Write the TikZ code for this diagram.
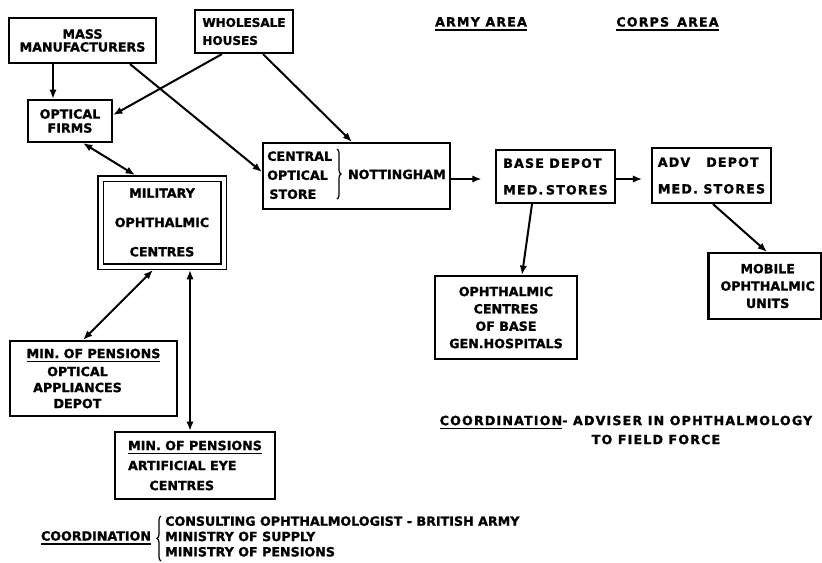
\documentclass[tikz,border=0pt]{standalone}
\usepackage{fontspec}
\setmainfont{DejaVu Sans}[BoldFont={DejaVu Sans Bold}, BoldFeatures={FakeBold=1.2}]
\newfontfamily\lsf{DejaVu Sans}[BoldFont={DejaVu Sans Bold}, BoldFeatures={FakeBold=1.2}, LetterSpace=9]
\usetikzlibrary{arrows.meta,decorations.pathreplacing}
\newcommand\myul[1]{\setbox0=\hbox{#1}\rlap{\rule[-3.2pt]{\wd0}{1.3pt}}\box0}
\newcommand\fs[2]{\fontsize{#1}{#2}\selectfont\bfseries}
\begin{document}
\begin{tikzpicture}[x=0.75pt,y=-0.75pt,
  box/.style={draw, line width=1.6pt, inner sep=0pt, align=center},
  sz/.style 2 args={minimum width=#1*0.75pt, minimum height=#2*0.75pt},
  lbl/.style={inner sep=0pt},
  bracepath/.style={decorate, decoration={brace, amplitude=3pt}, line width=0.9pt},
  arr/.style={line width=1.5pt, -{Latex[length=7pt,width=5.5pt]}},
  darr/.style={line width=1.5pt, {Latex[length=7pt,width=5.5pt]}-{Latex[length=7pt,width=5.5pt]}}]
\useasboundingbox (0,0) rectangle (822,562);

% boxes
\node[box, sz={147}{45}, font=\fs{9.5pt}{9.75pt}] (mass) at (82.5,40.5) {MASS\\MANUFACTURERS};
\node[box, sz={98}{43}, align=left, font=\fs{9pt}{13.5pt}] (whole) at (244,31.5) {WHOLESALE\\HOUSES};
\node[box, sz={84}{42}, font=\fs{9.5pt}{10.5pt}] (firms) at (70,121) {OPTICAL\\FIRMS};
\node[box, sz={123}{88}, line width=1.1pt, double, double distance=3pt, outer sep=2.6pt,
      font=\fs{9.5pt}{22pt}] (mil) at (162,222.5) {MILITARY\\OPHTHALMIC\\CENTRES};
\node[box, sz={187}{66}, font=\fs{9.5pt}{14.25pt}] (central) at (356.5,176)
  {\begin{tabular}{@{}l@{}}CENTRAL\\OPTICAL\\\,STORE\end{tabular}\hspace{12pt}NOTTINGHAM};
\coordinate (brtop) at (337,149);
\coordinate (brbot) at (337,199);
\draw[bracepath] (brtop) -- (brbot);
\node[box, sz={119}{53}, align=left, font=\fs{9.5pt}{20pt}\lsf] (base) at (555.5,176.5) {BASE\hspace{4pt}DEPOT\\MED.\hspace{2pt}STORES};
\node[box, sz={119}{55}, align=left, font=\fs{9.5pt}{20pt}\lsf] (adv) at (711.5,175.5) {ADV\hspace{12pt}DEPOT\\MED. STORES};
\node[box, sz={142}{83}, font=\fs{9.5pt}{13pt}] (ophc) at (506,317.5) {OPHTHALMIC\\CENTRES\\OF BASE\\GEN.HOSPITALS};
\node[box, sz={113}{66}, font=\fs{9.5pt}{13pt}] (mobile) at (765,286) {\hspace*{4pt}MOBILE\\\hspace*{4pt}OPHTHALMIC\\\hspace*{4pt}UNITS};
\node[box, sz={167}{75}, font=\fs{9.5pt}{12pt}] (minopt) at (93.5,378.5)
  {\myul{MIN.\ OF\ PENSIONS}\\[1.5pt]\hspace*{-24pt}OPTICAL\\\hspace*{-24pt}APPLIANCES\\\hspace*{-24pt}DEPOT};
\node[box, sz={160}{67}, align=left, font=\fs{9.5pt}{15pt}] (minart) at (195,465.5)
  {\myul{MIN. OF PENSIONS}\\ARTIFICIAL EYE\\\hspace*{16pt}CENTRES};

% labels
\node[lbl, font=\fs{9.5pt}{12pt}\lsf] (army) at (481,24) {\myul{ARMY AREA}};
\node[lbl, font=\fs{9.5pt}{12pt}\lsf] (corps) at (667.5,24) {\myul{CORPS\hspace{6pt}AREA}};
\node[lbl, align=center, font=\fs{9.5pt}{14.25pt}\lsf] (coordR) at (626,430)
  {\myul{COORDINATION}- ADVISER IN OPHTHALMOLOGY\\\hspace*{45pt}TO FIELD FORCE};
\node[lbl, font=\fs{9.5pt}{12pt}] (coordL) at (96,538) {\myul{COORDINATION}};
\node[lbl, anchor=west, font=\fs{9.5pt}{11.5pt}] (coordList) at (165,538)
  {\begin{tabular}{@{}l@{}}CONSULTING OPHTHALMOLOGIST - BRITISH ARMY\\MINISTRY OF SUPPLY\\MINISTRY OF PENSIONS\end{tabular}};
\coordinate (br2top) at (161,561);
\coordinate (br2bot) at (161,516);
\draw[bracepath] (br2top) -- (br2bot);

% connectors
\draw[arr] (mass.south -| 53,0) -- (firms.north -| 53,0);
\draw[arr] (mass.south -| 130,0) -- (central.west |- 0,172);
\draw[arr] (whole.south -| 222,0) -- (firms.east |- 0,115);
\draw[arr] (whole.south -| 263,0) -- (central.north -| 352,0);
\draw[darr] (firms.south -| 83,0) -- (mil.north -| 135,0);
\draw[darr] (mil.south -| 153,0) -- (minopt.north -| 83,0);
\draw[darr] (mil.south -| 190,0) -- (minart.north -| 190,0);
\draw[arr, shorten >=10pt] (central.east |- 0,179) -- (base.west |- 0,179);
\draw[arr, shorten >=6.5pt] (base.east |- 0,179) -- (adv.west |- 0,179);
\draw[arr] (base.south -| 532,0) -- (ophc.north -| 522,0);
\draw[arr] (adv.south -| 713,0) -- (mobile.north -| 767,0);
\end{tikzpicture}
\end{document}
